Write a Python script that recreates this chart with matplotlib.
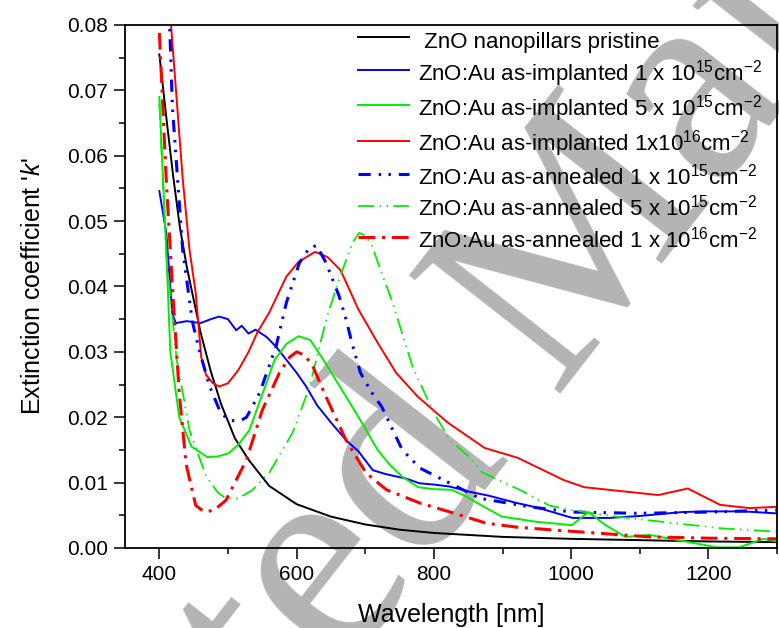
import matplotlib
matplotlib.use("Agg")
import matplotlib.pyplot as plt
from matplotlib.ticker import MultipleLocator

plt.rcParams['font.family'] = ['Liberation Sans', 'DejaVu Sans']
plt.rcParams['mathtext.fontset'] = 'custom'
plt.rcParams['mathtext.rm'] = 'Liberation Sans'
plt.rcParams['mathtext.it'] = 'Liberation Sans:italic'

# pristine ZnO nanopillars
wl_pristine = [400, 410, 420, 430, 440, 450, 460, 475, 490, 510, 530, 560, 600,
               650, 700, 750, 800, 900, 1000, 1100, 1200, 1300]
k_pristine = [0.0755, 0.066, 0.057, 0.049, 0.043, 0.038, 0.033, 0.027, 0.022, 0.0168,
              0.0135, 0.0095, 0.0067, 0.0048, 0.0036, 0.0028, 0.0023, 0.0017, 0.0014,
              0.0012, 0.0010, 0.0009]

# as-implanted 1e15
wl_imp1 = [400, 410, 419, 424, 440, 460, 475, 487, 500, 512, 520, 530, 540, 556, 570,
           585, 600, 614, 630, 650, 672, 690, 711, 730, 760, 779, 800, 823, 852, 880,
           920, 950, 1002, 1056, 1100, 1162, 1200, 1250, 1299]
k_imp1 = [0.0546, 0.0483, 0.0358, 0.0344, 0.0347, 0.0344, 0.0350, 0.0354, 0.0350, 0.0333,
          0.0340, 0.0328, 0.0334, 0.0323, 0.0308, 0.0288, 0.0268, 0.0247, 0.0218, 0.0192,
          0.0165, 0.0148, 0.0119, 0.0113, 0.0106, 0.0099, 0.0097, 0.0094, 0.0086, 0.0080,
          0.0069, 0.0062, 0.0046, 0.0046, 0.0049, 0.0055, 0.0056, 0.0056, 0.0053]

# as-implanted 5e15
wl_imp5 = [400, 410, 416, 429, 447, 470, 485, 501, 515, 531, 550, 568, 585, 603, 620,
           639, 660, 681, 700, 718, 736, 754, 777, 800, 826, 845, 863, 899, 950, 1001,
           1025, 1050, 1079, 1114, 1177, 1212, 1245, 1280, 1299]
k_imp5 = [0.069, 0.0456, 0.030, 0.020, 0.0155, 0.0139, 0.0140, 0.0145, 0.0158, 0.018,
          0.0235, 0.0288, 0.0312, 0.0324, 0.0318, 0.0288, 0.0252, 0.0216, 0.0183, 0.0150,
          0.0127, 0.0109, 0.0093, 0.0090, 0.0089, 0.0080, 0.0069, 0.0048, 0.0040, 0.0035,
          0.0055, 0.0035, 0.0017, 0.0020, 0.0008, 0.0001, 0.0001, 0.0014, 0.0010]

# as-implanted 1e16
wl_imp16 = [400, 417, 434, 444, 453, 461, 468, 478, 487, 500, 515, 530, 543, 560, 585,
            603, 627, 645, 664, 690, 718, 745, 777, 820, 874, 922, 989, 1019, 1127,
            1170, 1217, 1260, 1300]
k_imp16 = [0.105, 0.080, 0.0565, 0.0456, 0.039, 0.0292, 0.0265, 0.0252, 0.0247, 0.0252,
           0.0272, 0.030, 0.033, 0.036, 0.0415, 0.0438, 0.0453, 0.0445, 0.0425, 0.0365,
           0.0314, 0.0268, 0.0231, 0.0192, 0.0153, 0.0138, 0.0104, 0.0093, 0.0081,
           0.0091, 0.0066, 0.0061, 0.0063]

# annealed 1e15
wl_ann1 = [400, 415, 419, 434, 448, 458, 473, 490, 505, 517, 527, 546, 570, 585, 604,
           618, 629, 643, 662, 672, 681, 693, 708, 724, 754, 780, 814, 867, 939, 1002,
           1100, 1200, 1299]
k_ann1 = [0.11, 0.080, 0.0675, 0.0456, 0.0347, 0.0303, 0.0248, 0.0205, 0.0195, 0.0194,
          0.0200, 0.0237, 0.0308, 0.0375, 0.0436, 0.0458, 0.0463, 0.0436, 0.0385, 0.0350,
          0.0312, 0.0268, 0.0240, 0.0216, 0.0150, 0.0122, 0.0104, 0.0076, 0.0063, 0.0055,
          0.0053, 0.0055, 0.0058]

# annealed 5e15
wl_ann5 = [400, 410, 425, 444, 468, 485, 497, 515, 536, 560, 594, 619, 643, 660, 672,
           682, 691, 700, 710, 720, 740, 769, 798, 823, 852, 870, 925, 968, 1000, 1066,
           1150, 1220, 1299]
k_ann5 = [0.068, 0.045, 0.029, 0.018, 0.011, 0.0085, 0.0076, 0.0076, 0.0089, 0.0115,
          0.0176, 0.0247, 0.0349, 0.0405, 0.0440, 0.0468, 0.0482, 0.0478, 0.0462, 0.0432,
          0.0375, 0.0277, 0.0211, 0.0165, 0.0139, 0.0116, 0.0089, 0.0065, 0.0058, 0.0048,
          0.0038, 0.0030, 0.0025]

# annealed 1e16
wl_ann16 = [400, 410, 419, 429, 439, 453, 466, 480, 497, 527, 550, 575, 590, 600, 612,
            624, 643, 672, 701, 731, 779, 827, 876, 920, 968, 1114, 1200, 1299]
k_ann16 = [0.0788, 0.0565, 0.040, 0.0237, 0.0128, 0.0065, 0.0055, 0.0058, 0.0073, 0.0135,
           0.0211, 0.0268, 0.0292, 0.0300, 0.0295, 0.0277, 0.0231, 0.0165, 0.0115, 0.0089,
           0.0069, 0.0054, 0.0038, 0.0032, 0.0028, 0.0017, 0.0015, 0.0014]

labels = [
    ' ZnO nanopillars pristine',
    'ZnO:Au as-implanted 1 x 10$^{15}$cm$^{-2}$',
    'ZnO:Au as-implanted 5 x 10$^{15}$cm$^{-2}$',
    'ZnO:Au as-implanted 1x10$^{16}$cm$^{-2}$',
    'ZnO:Au as-annealed 1 x 10$^{15}$cm$^{-2}$',
    'ZnO:Au as-annealed 5 x 10$^{15}$cm$^{-2}$',
    'ZnO:Au as-annealed 1 x 10$^{16}$cm$^{-2}$',
]

fig = plt.figure(figsize=(7.79, 6.28), dpi=100)
ax = fig.add_axes([0.1605, 0.1274, 0.837, 0.8328])

ax.plot(wl_pristine, k_pristine, color='black', lw=1.4, label=labels[0])
ax.plot(wl_imp1, k_imp1, color='#0000ff', lw=1.4, label=labels[1])
ax.plot(wl_imp5, k_imp5, color='#00ee00', lw=1.4, label=labels[2])
ax.plot(wl_imp16, k_imp16, color='#ff0000', lw=1.4, label=labels[3])
ax.plot(wl_ann1, k_ann1, color='#0000ff', lw=2.2, dashes=[4, 2.6, 0.8, 2.4, 0.8, 2.6],
        label=labels[4])
ax.plot(wl_ann5, k_ann5, color='#00ee00', lw=1.3, dashes=[9, 3, 0.8, 3, 0.8, 3],
        label=labels[5])
ax.plot(wl_ann16, k_ann16, color='#ff0000', lw=2.2, dashes=[5.5, 2.2, 1, 2.2],
        label=labels[6])

# watermark
ax.text(0.703, 0.529, 'Accepted Manuscript', transform=fig.transFigure,
        fontsize=210, family='Liberation Serif', color='#b4b4b4',
        rotation=52, rotation_mode='anchor', ha='center', va='center',
        zorder=1, clip_on=False)

ax.set_xlim(350, 1300)
ax.set_ylim(0, 0.08)
ax.xaxis.set_major_locator(MultipleLocator(200))
ax.xaxis.set_minor_locator(MultipleLocator(100))
ax.yaxis.set_major_locator(MultipleLocator(0.01))
ax.yaxis.set_minor_locator(MultipleLocator(0.005))
ax.yaxis.set_major_formatter(plt.FormatStrFormatter('%.2f'))
ax.tick_params(which='both', direction='out', top=False, right=False,
               labelsize=15, width=1.1)
ax.tick_params(which='major', length=8, pad=4)
ax.tick_params(which='minor', length=4)
for sp in ax.spines.values():
    sp.set_linewidth(1.3)

ax.set_xlabel('Wavelength [nm]', fontsize=18, labelpad=14)
ax.set_ylabel("Extinction coefficient '$\\mathit{k}$'", fontsize=18, labelpad=16)

ax.legend(loc='upper left', bbox_to_anchor=(358 / 779, 1 - 27 / 628),
          bbox_transform=fig.transFigure, frameon=False, fontsize=16,
          handlelength=2.3, handleheight=1.45, handletextpad=0.4, labelspacing=0.2,
          borderpad=0, borderaxespad=0)

fig.savefig('out.png', dpi=100)
